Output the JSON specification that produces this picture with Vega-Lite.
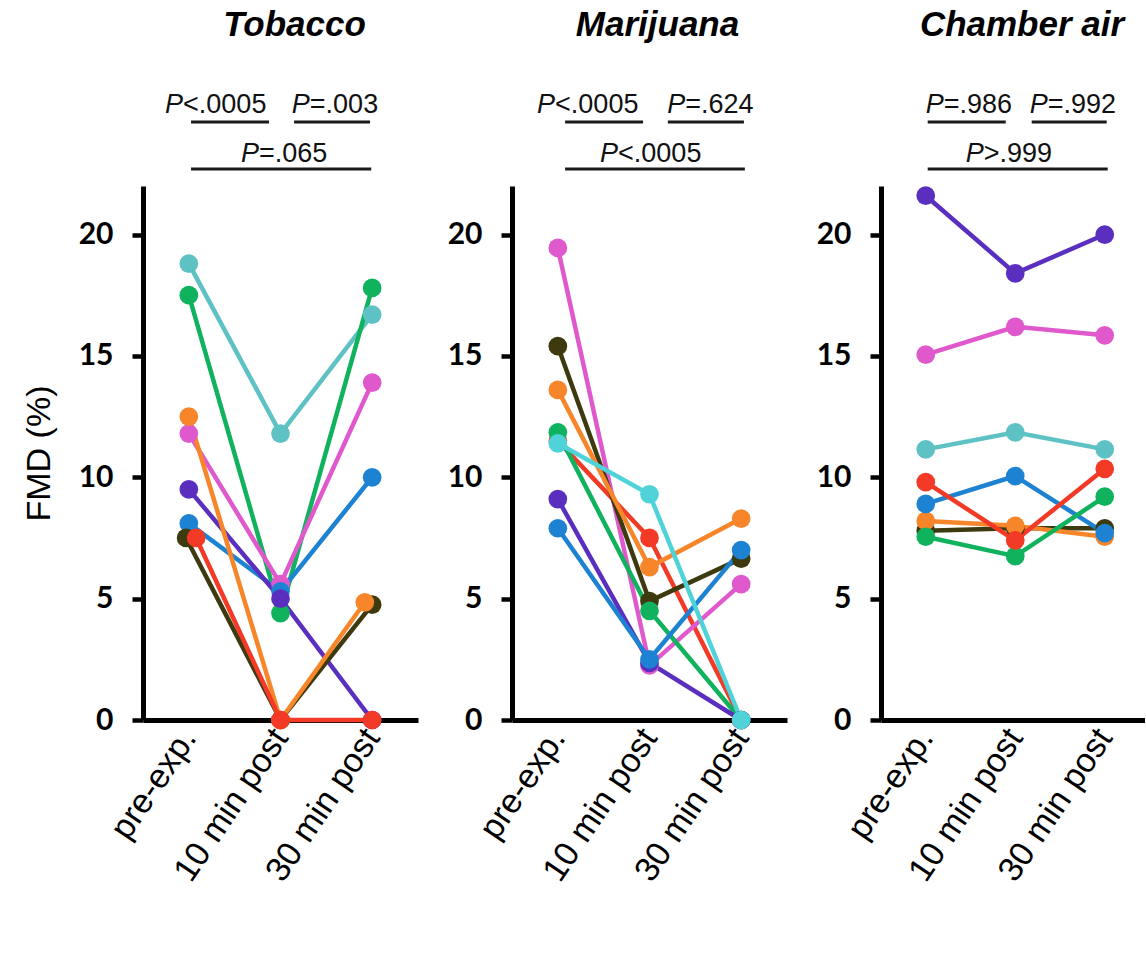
{
  "$schema": "https://vega.github.io/schema/vega-lite/v6.json",
  "background": "white",
  "padding": {"left": 22, "top": 8, "right": 0, "bottom": 0},
  "spacing": 94,
  "bounds": "flush",
  "datasets": {
    "fmd": [
      {"panel": "Tobacco", "subject": "s1", "t": 0, "fmd": 18.8},
      {"panel": "Tobacco", "subject": "s1", "t": 1, "fmd": 11.8},
      {"panel": "Tobacco", "subject": "s1", "t": 2, "fmd": 16.7},
      {"panel": "Tobacco", "subject": "s2", "t": 0, "fmd": 17.5},
      {"panel": "Tobacco", "subject": "s2", "t": 1, "fmd": 4.4},
      {"panel": "Tobacco", "subject": "s2", "t": 2, "fmd": 17.8},
      {"panel": "Tobacco", "subject": "s4", "t": 0, "fmd": 11.8},
      {"panel": "Tobacco", "subject": "s4", "t": 1, "fmd": 5.6},
      {"panel": "Tobacco", "subject": "s4", "t": 2, "fmd": 13.9},
      {"panel": "Tobacco", "subject": "s6", "t": 0, "fmd": 8.1},
      {"panel": "Tobacco", "subject": "s6", "t": 1, "fmd": 5.3},
      {"panel": "Tobacco", "subject": "s6", "t": 2, "fmd": 10.0},
      {"panel": "Tobacco", "subject": "s5", "t": 0, "fmd": 9.5},
      {"panel": "Tobacco", "subject": "s5", "t": 1, "fmd": 5.0},
      {"panel": "Tobacco", "subject": "s5", "t": 2, "fmd": 0},
      {"panel": "Tobacco", "subject": "s7", "t": -0.03, "fmd": 7.5},
      {"panel": "Tobacco", "subject": "s7", "t": 1, "fmd": 0},
      {"panel": "Tobacco", "subject": "s7", "t": 2, "fmd": 4.75},
      {"panel": "Tobacco", "subject": "s3", "t": 0, "fmd": 12.5},
      {"panel": "Tobacco", "subject": "s3", "t": 1, "fmd": 0},
      {"panel": "Tobacco", "subject": "s3", "t": 1.92, "fmd": 4.85},
      {"panel": "Tobacco", "subject": "s8", "t": 0.08, "fmd": 7.5},
      {"panel": "Tobacco", "subject": "s8", "t": 1, "fmd": 0},
      {"panel": "Tobacco", "subject": "s8", "t": 2, "fmd": 0},

      {"panel": "Marijuana", "subject": "s8", "t": 0, "fmd": 11.5},
      {"panel": "Marijuana", "subject": "s8", "t": 1, "fmd": 7.5},
      {"panel": "Marijuana", "subject": "s8", "t": 2, "fmd": 0},
      {"panel": "Marijuana", "subject": "s4", "t": 0, "fmd": 19.45},
      {"panel": "Marijuana", "subject": "s4", "t": 1, "fmd": 2.25},
      {"panel": "Marijuana", "subject": "s4", "t": 2, "fmd": 5.6},
      {"panel": "Marijuana", "subject": "s7", "t": 0, "fmd": 15.4},
      {"panel": "Marijuana", "subject": "s7", "t": 1, "fmd": 4.9},
      {"panel": "Marijuana", "subject": "s7", "t": 2, "fmd": 6.65},
      {"panel": "Marijuana", "subject": "s3", "t": 0, "fmd": 13.6},
      {"panel": "Marijuana", "subject": "s3", "t": 1, "fmd": 6.3},
      {"panel": "Marijuana", "subject": "s3", "t": 2, "fmd": 8.3},
      {"panel": "Marijuana", "subject": "s2", "t": 0, "fmd": 11.85},
      {"panel": "Marijuana", "subject": "s2", "t": 1, "fmd": 4.5},
      {"panel": "Marijuana", "subject": "s2", "t": 2, "fmd": 0},
      {"panel": "Marijuana", "subject": "s5", "t": 0, "fmd": 9.1},
      {"panel": "Marijuana", "subject": "s5", "t": 1, "fmd": 2.35},
      {"panel": "Marijuana", "subject": "s5", "t": 2, "fmd": 0},
      {"panel": "Marijuana", "subject": "s6", "t": 0, "fmd": 7.9},
      {"panel": "Marijuana", "subject": "s6", "t": 1, "fmd": 2.5},
      {"panel": "Marijuana", "subject": "s6", "t": 2, "fmd": 7.0},
      {"panel": "Marijuana", "subject": "s9", "t": 0, "fmd": 11.4},
      {"panel": "Marijuana", "subject": "s9", "t": 1, "fmd": 9.3},
      {"panel": "Marijuana", "subject": "s9", "t": 2, "fmd": 0},

      {"panel": "Chamber air", "subject": "s7", "t": 0, "fmd": 7.8},
      {"panel": "Chamber air", "subject": "s7", "t": 1, "fmd": 7.9},
      {"panel": "Chamber air", "subject": "s7", "t": 2, "fmd": 7.9},
      {"panel": "Chamber air", "subject": "s3", "t": 0, "fmd": 8.2},
      {"panel": "Chamber air", "subject": "s3", "t": 1, "fmd": 8.0},
      {"panel": "Chamber air", "subject": "s3", "t": 2, "fmd": 7.55},
      {"panel": "Chamber air", "subject": "s6", "t": 0, "fmd": 8.9},
      {"panel": "Chamber air", "subject": "s6", "t": 1, "fmd": 10.05},
      {"panel": "Chamber air", "subject": "s6", "t": 2, "fmd": 7.7},
      {"panel": "Chamber air", "subject": "s1", "t": 0, "fmd": 11.15},
      {"panel": "Chamber air", "subject": "s1", "t": 1, "fmd": 11.85},
      {"panel": "Chamber air", "subject": "s1", "t": 2, "fmd": 11.15},
      {"panel": "Chamber air", "subject": "s4", "t": 0, "fmd": 15.05},
      {"panel": "Chamber air", "subject": "s4", "t": 1, "fmd": 16.2},
      {"panel": "Chamber air", "subject": "s4", "t": 2, "fmd": 15.85},
      {"panel": "Chamber air", "subject": "s5", "t": 0, "fmd": 21.6},
      {"panel": "Chamber air", "subject": "s5", "t": 1, "fmd": 18.4},
      {"panel": "Chamber air", "subject": "s5", "t": 2, "fmd": 20.0},
      {"panel": "Chamber air", "subject": "s2", "t": 0, "fmd": 7.55},
      {"panel": "Chamber air", "subject": "s2", "t": 1, "fmd": 6.75},
      {"panel": "Chamber air", "subject": "s2", "t": 2, "fmd": 9.2},
      {"panel": "Chamber air", "subject": "s8", "t": 0, "fmd": 9.8},
      {"panel": "Chamber air", "subject": "s8", "t": 1, "fmd": 7.4},
      {"panel": "Chamber air", "subject": "s8", "t": 2, "fmd": 10.35}
    ],
    "brackets": [
      {"panel": "Tobacco", "x0": 0.024, "x1": 0.875, "y": 24.64},
      {"panel": "Tobacco", "x0": 1.148, "x1": 1.977, "y": 24.64},
      {"panel": "Tobacco", "x0": 0.024, "x1": 1.99, "y": 22.7},
      {"panel": "Marijuana", "x0": 0.079, "x1": 0.93, "y": 24.64},
      {"panel": "Marijuana", "x0": 1.2, "x1": 2.03, "y": 24.64},
      {"panel": "Marijuana", "x0": 0.079, "x1": 2.04, "y": 22.7},
      {"panel": "Chamber air", "x0": 0.022, "x1": 0.894, "y": 24.64},
      {"panel": "Chamber air", "x0": 1.184, "x1": 2.022, "y": 24.64},
      {"panel": "Chamber air", "x0": 0.022, "x1": 2.033, "y": 22.7}
    ],
    "pvals": [
      {"panel": "Tobacco", "x": -0.063, "y": 25.0, "rest": "<.0005"},
      {"panel": "Tobacco", "x": 1.32, "y": 25.0, "rest": "=.003"},
      {"panel": "Tobacco", "x": 0.766, "y": 22.99, "rest": "=.065"},
      {"panel": "Marijuana", "x": -0.03, "y": 25.0, "rest": "<.0005"},
      {"panel": "Marijuana", "x": 1.39, "y": 25.0, "rest": "=.624"},
      {"panel": "Marijuana", "x": 0.657, "y": 22.99, "rest": "<.0005"},
      {"panel": "Chamber air", "x": 0.2, "y": 25.0, "rest": "=.986"},
      {"panel": "Chamber air", "x": 1.363, "y": 25.0, "rest": "=.992"},
      {"panel": "Chamber air", "x": 0.648, "y": 22.99, "rest": ">.999"}
    ]
  },
  "hconcat": [
    {
      "width": 275,
      "height": 534,
      "title": {"text": "Tobacco", "offset": 48, "dx": 14},
      "layer": [
        {
          "data": {"name": "fmd"},
          "transform": [{"filter": "datum.panel === 'Tobacco'"}],
          "mark": {"type": "line", "strokeWidth": 4.5, "point": {"filled": true, "size": 350, "opacity": 1}},
          "encoding": {
            "x": {"field": "t", "type": "quantitative", "scale": {"domain": [-0.5, 2.5], "nice": false, "zero": false},
              "axis": {"values": [0, 1, 2], "labelExpr": "['pre-exp.','10 min post','30 min post'][round(datum.value)]", "title": null}},
            "y": {"field": "fmd", "type": "quantitative", "scale": {"domain": [0, 22], "nice": false, "zero": true},
              "axis": {"values": [0, 5, 10, 15, 20], "title": "FMD (%)"}},
            "color": {"field": "subject", "type": "nominal", "legend": null,
              "scale": {"domain": ["s1", "s2", "s3", "s4", "s5", "s6", "s7", "s8", "s9"],
                "range": ["#5ec2c4", "#10b25e", "#f7862a", "#e059cc", "#5a2fbf", "#1e82d2", "#3d3a10", "#f23a27", "#4fd3d8"]}}
          }
        },
        {
          "data": {"name": "brackets"},
          "transform": [{"filter": "datum.panel === 'Tobacco'"}],
          "mark": {"type": "rule", "strokeWidth": 3, "color": "#1a1a1a"},
          "encoding": {
            "x": {"field": "x0", "type": "quantitative", "scale": {"domain": [-0.5, 2.5], "nice": false, "zero": false}},
            "x2": {"field": "x1"},
            "y": {"field": "y", "type": "quantitative", "scale": {"domain": [0, 22], "nice": false, "zero": true}}
          }
        },
        {
          "data": {"name": "pvals"},
          "transform": [{"filter": "datum.panel === 'Tobacco'"}],
          "mark": {"type": "text", "text": "P", "font": "Liberation Sans", "fontSize": 27, "fontStyle": "italic", "align": "right", "baseline": "alphabetic", "color": "#111"},
          "encoding": {
            "x": {"field": "x", "type": "quantitative", "scale": {"domain": [-0.5, 2.5], "nice": false, "zero": false}},
            "y": {"field": "y", "type": "quantitative", "scale": {"domain": [0, 22], "nice": false, "zero": true}}
          }
        },
        {
          "data": {"name": "pvals"},
          "transform": [{"filter": "datum.panel === 'Tobacco'"}],
          "mark": {"type": "text", "font": "Liberation Sans", "fontSize": 27, "align": "left", "baseline": "alphabetic", "color": "#111"},
          "encoding": {
            "text": {"field": "rest"},
            "x": {"field": "x", "type": "quantitative", "scale": {"domain": [-0.5, 2.5], "nice": false, "zero": false}},
            "y": {"field": "y", "type": "quantitative", "scale": {"domain": [0, 22], "nice": false, "zero": true}}
          }
        }
      ]
    },
    {
      "width": 275,
      "height": 534,
      "title": {"text": "Marijuana", "offset": 48, "dx": 8},
      "layer": [
        {
          "data": {"name": "fmd"},
          "transform": [{"filter": "datum.panel === 'Marijuana'"}],
          "mark": {"type": "line", "strokeWidth": 4.5, "point": {"filled": true, "size": 350, "opacity": 1}},
          "encoding": {
            "x": {"field": "t", "type": "quantitative", "scale": {"domain": [-0.5, 2.5], "nice": false, "zero": false},
              "axis": {"values": [0, 1, 2], "labelExpr": "['pre-exp.','10 min post','30 min post'][round(datum.value)]", "title": null}},
            "y": {"field": "fmd", "type": "quantitative", "scale": {"domain": [0, 22], "nice": false, "zero": true},
              "axis": {"values": [0, 5, 10, 15, 20], "title": null}},
            "color": {"field": "subject", "type": "nominal", "legend": null,
              "scale": {"domain": ["s1", "s2", "s3", "s4", "s5", "s6", "s7", "s8", "s9"],
                "range": ["#5ec2c4", "#10b25e", "#f7862a", "#e059cc", "#5a2fbf", "#1e82d2", "#3d3a10", "#f23a27", "#4fd3d8"]}}
          }
        },
        {
          "data": {"name": "brackets"},
          "transform": [{"filter": "datum.panel === 'Marijuana'"}],
          "mark": {"type": "rule", "strokeWidth": 3, "color": "#1a1a1a"},
          "encoding": {
            "x": {"field": "x0", "type": "quantitative", "scale": {"domain": [-0.5, 2.5], "nice": false, "zero": false}},
            "x2": {"field": "x1"},
            "y": {"field": "y", "type": "quantitative", "scale": {"domain": [0, 22], "nice": false, "zero": true}}
          }
        },
        {
          "data": {"name": "pvals"},
          "transform": [{"filter": "datum.panel === 'Marijuana'"}],
          "mark": {"type": "text", "text": "P", "font": "Liberation Sans", "fontSize": 27, "fontStyle": "italic", "align": "right", "baseline": "alphabetic", "color": "#111"},
          "encoding": {
            "x": {"field": "x", "type": "quantitative", "scale": {"domain": [-0.5, 2.5], "nice": false, "zero": false}},
            "y": {"field": "y", "type": "quantitative", "scale": {"domain": [0, 22], "nice": false, "zero": true}}
          }
        },
        {
          "data": {"name": "pvals"},
          "transform": [{"filter": "datum.panel === 'Marijuana'"}],
          "mark": {"type": "text", "font": "Liberation Sans", "fontSize": 27, "align": "left", "baseline": "alphabetic", "color": "#111"},
          "encoding": {
            "text": {"field": "rest"},
            "x": {"field": "x", "type": "quantitative", "scale": {"domain": [-0.5, 2.5], "nice": false, "zero": false}},
            "y": {"field": "y", "type": "quantitative", "scale": {"domain": [0, 22], "nice": false, "zero": true}}
          }
        }
      ]
    },
    {
      "width": 264,
      "height": 534,
      "title": {"text": "Chamber air", "offset": 48, "dx": 9},
      "layer": [
        {
          "data": {"name": "fmd"},
          "transform": [{"filter": "datum.panel === 'Chamber air'"}],
          "mark": {"type": "line", "strokeWidth": 4.5, "point": {"filled": true, "size": 350, "opacity": 1}},
          "encoding": {
            "x": {"field": "t", "type": "quantitative", "scale": {"domain": [-0.5, 2.45], "nice": false, "zero": false},
              "axis": {"values": [0, 1, 2], "labelExpr": "['pre-exp.','10 min post','30 min post'][round(datum.value)]", "title": null}},
            "y": {"field": "fmd", "type": "quantitative", "scale": {"domain": [0, 22], "nice": false, "zero": true},
              "axis": {"values": [0, 5, 10, 15, 20], "title": null}},
            "color": {"field": "subject", "type": "nominal", "legend": null,
              "scale": {"domain": ["s1", "s2", "s3", "s4", "s5", "s6", "s7", "s8", "s9"],
                "range": ["#5ec2c4", "#10b25e", "#f7862a", "#e059cc", "#5a2fbf", "#1e82d2", "#3d3a10", "#f23a27", "#4fd3d8"]}}
          }
        },
        {
          "data": {"name": "brackets"},
          "transform": [{"filter": "datum.panel === 'Chamber air'"}],
          "mark": {"type": "rule", "strokeWidth": 3, "color": "#1a1a1a"},
          "encoding": {
            "x": {"field": "x0", "type": "quantitative", "scale": {"domain": [-0.5, 2.45], "nice": false, "zero": false}},
            "x2": {"field": "x1"},
            "y": {"field": "y", "type": "quantitative", "scale": {"domain": [0, 22], "nice": false, "zero": true}}
          }
        },
        {
          "data": {"name": "pvals"},
          "transform": [{"filter": "datum.panel === 'Chamber air'"}],
          "mark": {"type": "text", "text": "P", "font": "Liberation Sans", "fontSize": 27, "fontStyle": "italic", "align": "right", "baseline": "alphabetic", "color": "#111"},
          "encoding": {
            "x": {"field": "x", "type": "quantitative", "scale": {"domain": [-0.5, 2.45], "nice": false, "zero": false}},
            "y": {"field": "y", "type": "quantitative", "scale": {"domain": [0, 22], "nice": false, "zero": true}}
          }
        },
        {
          "data": {"name": "pvals"},
          "transform": [{"filter": "datum.panel === 'Chamber air'"}],
          "mark": {"type": "text", "font": "Liberation Sans", "fontSize": 27, "align": "left", "baseline": "alphabetic", "color": "#111"},
          "encoding": {
            "text": {"field": "rest"},
            "x": {"field": "x", "type": "quantitative", "scale": {"domain": [-0.5, 2.45], "nice": false, "zero": false}},
            "y": {"field": "y", "type": "quantitative", "scale": {"domain": [0, 22], "nice": false, "zero": true}}
          }
        }
      ]
    }
  ],
  "config": {
    "view": {"stroke": null},
    "title": {"font": "Liberation Sans", "fontSize": 35, "fontStyle": "italic", "fontWeight": "bold", "color": "#000", "anchor": "middle"},
    "axis": {
      "grid": false,
      "domainColor": "#000",
      "domainWidth": 5,
      "tickColor": "#000",
      "tickWidth": 4.5,
      "tickSize": 11,
      "labelColor": "#000",
      "labelOverlap": false,
      "labelFlush": false,
      "labelBound": false
    },
    "axisY": {
      "labelFont": "Lato",
      "labelFontWeight": "bold",
      "labelFontSize": 30,
      "labelPadding": 19,
      "titleFont": "Liberation Sans",
      "titleFontSize": 34,
      "titleFontWeight": "normal",
      "titleColor": "#000",
      "titlePadding": 22
    },
    "axisX": {
      "ticks": false,
      "labelFont": "Liberation Sans",
      "labelFontSize": 34,
      "labelAngle": -56,
      "labelPadding": 12
    }
  }
}
